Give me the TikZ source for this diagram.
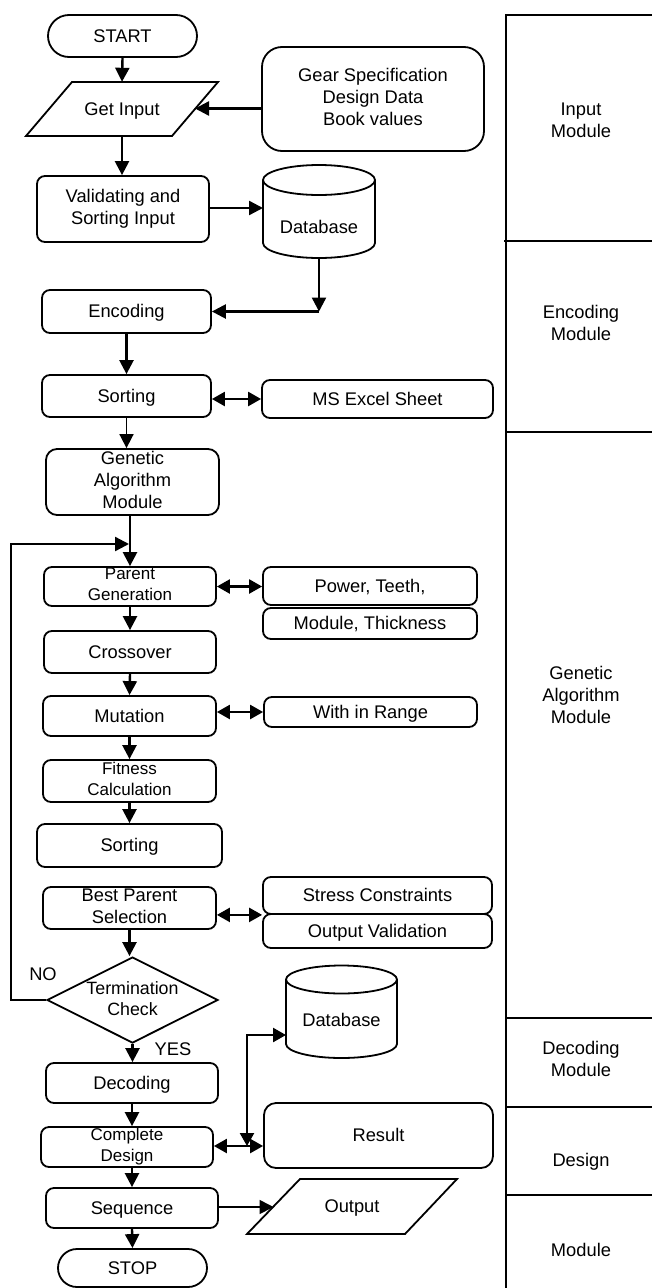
\documentclass[tikz,border=0pt]{standalone}
\usepackage{fontspec}
\setmainfont{Liberation Sans}
\usetikzlibrary{arrows.meta,shapes.geometric,calc}
\newcommand\mystrut{\vrule width 0pt height 16.5pt depth 3.9pt\relax}
\tikzset{
 basefont/.style={font=\fontsize{18.3}{22}\selectfont},
 smallfont/.style={font=\fontsize{17}{21}\selectfont},
 box/.style={draw, line width=1.8pt, rounded corners=8pt, inner sep=0pt, align=center, basefont,
   execute at begin node=\mystrut, execute at end node=\mystrut},
 txt/.style={inner sep=0pt, align=center, basefont,
   execute at begin node=\mystrut, execute at end node=\mystrut},
 shp/.style={line width=1.8pt, line join=miter},
 arr/.style={line width=2.4pt, -{Triangle[length=14pt,width=14pt]}},
 tarr/.style={line width=1.7pt, -{Triangle[length=14pt,width=14pt]}},
 darr/.style={line width=2.4pt, {Triangle[length=13pt,width=14pt]}-{Triangle[length=13pt,width=14pt]}},
 panel/.style={line width=1.5pt},
}
\begin{document}
\begin{tikzpicture}[x=1pt,y=-1pt]
\useasboundingbox (0,0) rectangle (652,1288);

% ---------- right panel ----------
\draw[panel] (652,15) -- (506,15) -- (506,1288);
\draw[panel] (504,241) -- (652,241);
\draw[panel] (506,432) -- (652,432);
\draw[panel] (506,1018) -- (652,1018);
\draw[panel] (506,1107) -- (652,1107);
\draw[panel] (506,1195) -- (652,1195);
\node[txt] (lin) at (581,122) {Input\\Module};
\node[txt] (lenc) at (581,325) {Encoding\\Module};
\node[txt] (lga) at (581,697) {Genetic\\Algorithm\\Module};
\node[txt] (ldec) at (581,1061) {Decoding\\Module};
\node[txt] (ldes) at (581,1160) {Design};
\node[txt] (lmod) at (581,1250) {Module};

% ---------- nodes ----------
\node[box, rounded corners=21pt, minimum width=149pt, minimum height=42pt] (start) at (122.5,36) {START};

\draw[shp] (72,82) -- (218,82) -- (172,136) -- (26,136) -- cycle;
\node[txt, minimum width=146pt, minimum height=54pt] (gi) at (122,109) {Get Input};
\coordinate (gie) at (195,108.5);

\node[box, rounded corners=20pt, minimum width=222pt, minimum height=104pt] (gear) at (373,99) {Gear Specification\\Design Data\\Book values};

\node[box, minimum width=172pt, minimum height=66pt] (val) at (123,209) {Validating and\\Sorting Input};

\draw[shp] (263,180) -- (263,243) .. controls (263,251.3) and (288.1,258) .. (319,258)
  .. controls (349.9,258) and (375,251.3) .. (375,243) -- (375,180);
\draw[shp] (319,180) ellipse [x radius=56pt, y radius=15pt];
\node[txt] (db1) at (319,227) {Database};
\coordinate (db1w) at (263,208);
\coordinate (db1s) at (319,258);
\coordinate (dbcorner) at (319,311.5);

\node[box, minimum width=169pt, minimum height=43pt] (enc) at (126.5,311.5) {Encoding};
\node[box, minimum width=169pt, minimum height=42pt] (sort1) at (126.5,396) {Sorting};
\node[box, minimum width=231pt, minimum height=38pt] (excel) at (377.5,399) {MS Excel Sheet};

\node[box, rounded corners=11pt, minimum width=173pt, minimum height=66pt] (ga) at (132.5,482) {Genetic\\Algorithm\\Module};

\node[box, smallfont, minimum width=172pt, minimum height=39pt] (par) at (130,586.5) {Parent\\Generation};
\node[box, minimum width=214pt, minimum height=38pt] (power) at (370,586) {Power, Teeth,};
\node[box, minimum width=214pt, minimum height=31pt] (modth) at (370,623.5) {Module, Thickness};

\node[box, minimum width=172pt, minimum height=42pt] (cross) at (130,652) {Crossover};
\node[box, minimum width=173pt, minimum height=40pt] (mut) at (129.5,716) {Mutation};
\node[box, minimum width=213pt, minimum height=30pt] (inrange) at (370.5,712) {With in Range};

\node[box, smallfont, minimum width=173pt, minimum height=42pt] (fit) at (129.5,781) {Fitness\\Calculation};
\node[box, minimum width=185pt, minimum height=43pt] (sort2) at (129.5,845.5) {Sorting};

\node[box, minimum width=173pt, minimum height=42pt] (best) at (129.5,908) {Best Parent\\Selection};
\node[box, minimum width=229pt, minimum height=37pt] (stress) at (377.5,895.5) {Stress Constraints};
\node[box, minimum width=229pt, minimum height=34pt] (outval) at (377.5,931) {Output Validation};

\node[box, diamond, rounded corners=0pt, line join=miter, font=\fontsize{17.8}{21}\selectfont,
  aspect=2, inner sep=-5pt, minimum width=171pt, minimum height=86pt] (term) at (132.5,1000) {Termination\\Check};

\node[box, minimum width=172pt, minimum height=40pt] (dec) at (132,1083) {Decoding};
\node[box, smallfont, minimum width=172pt, minimum height=40pt] (comp) at (127,1147) {Complete\\Design};

\draw[shp] (286,979.5) -- (286,1044) .. controls (286,1051.7) and (310.85,1058) .. (341.5,1058)
  .. controls (372.15,1058) and (397,1051.7) .. (397,1044) -- (397,979.5);
\draw[shp] (341.5,979.5) ellipse [x radius=55.5pt, y radius=14pt];
\node[txt] (db2) at (341.5,1020) {Database};
\coordinate (db2w) at (286,1035);
\coordinate (junc) at (247,1146);

\node[box, rounded corners=12pt, minimum width=229pt, minimum height=65pt] (result) at (378.5,1135.5) {Result};

\node[box, minimum width=172pt, minimum height=40pt] (seq) at (132,1208) {Sequence};

\draw[shp] (300,1179) -- (457,1179) -- (405,1234) -- (247,1234) -- cycle;
\node[txt] (out) at (352,1206) {Output};
\coordinate (outw) at (273.5,1207);

\node[box, rounded corners=19pt, minimum width=149pt, minimum height=38pt] (stop) at (132.5,1268) {STOP};

\node[txt] (no) at (43,974) {NO};
\node[txt] (yes) at (173,1049) {YES};

\coordinate (loopc) at (11,544);
\coordinate (loopin) at (129,544);

% ---------- connectors ----------
\draw[arr] (start.south) -- (gi.north);
\draw[arr] (gear.west |- gie) -- (gie);
\draw[arr] (gi.south) -- (gi.south |- val.north);
\draw[arr] (val.east |- db1w) -- (db1w);
\draw[arr] (db1s) -- (dbcorner);
\draw[arr] (dbcorner) -- (enc.east);
\draw[arr] (enc.south) -- (sort1.north);
\draw[darr] (sort1.east |- excel.west) -- (excel.west);
\draw[tarr] (sort1.south) -- (sort1.south |- ga.north);
\draw[arr] (par.north |- ga.south) -- (par.north);
\draw[arr] (term.west) -| (loopc) -- (loopin);
\draw[darr] (par.east) -- (par.east -| power.west);
\draw[arr] (par.south) -- (cross.north);
\draw[arr] (cross.south) -- (mut.north);
\draw[darr] (mut.east |- inrange.west) -- (inrange.west);
\draw[arr] (mut.south) -- (fit.north);
\draw[arr] (fit.south) -- (sort2.north);
\draw[darr] (best.east |- stress.south west) -- (stress.south west);
\draw[arr] (best.south) -- (best.south |- term.north);
\draw[arr] (term.south) -- (term.south |- dec.north);
\draw[arr] (dec.south) -- (dec.south |- comp.north);
\draw[darr] (comp.east |- junc) -- (result.west |- junc);
\draw[darr] (junc) |- (db2w);
\draw[arr] (comp.south -| seq.north) -- (seq.north);
\draw[tarr] (seq.east |- outw) -- (outw);
\draw[arr] (seq.south) -- (stop.north);
\end{tikzpicture}
\end{document}
